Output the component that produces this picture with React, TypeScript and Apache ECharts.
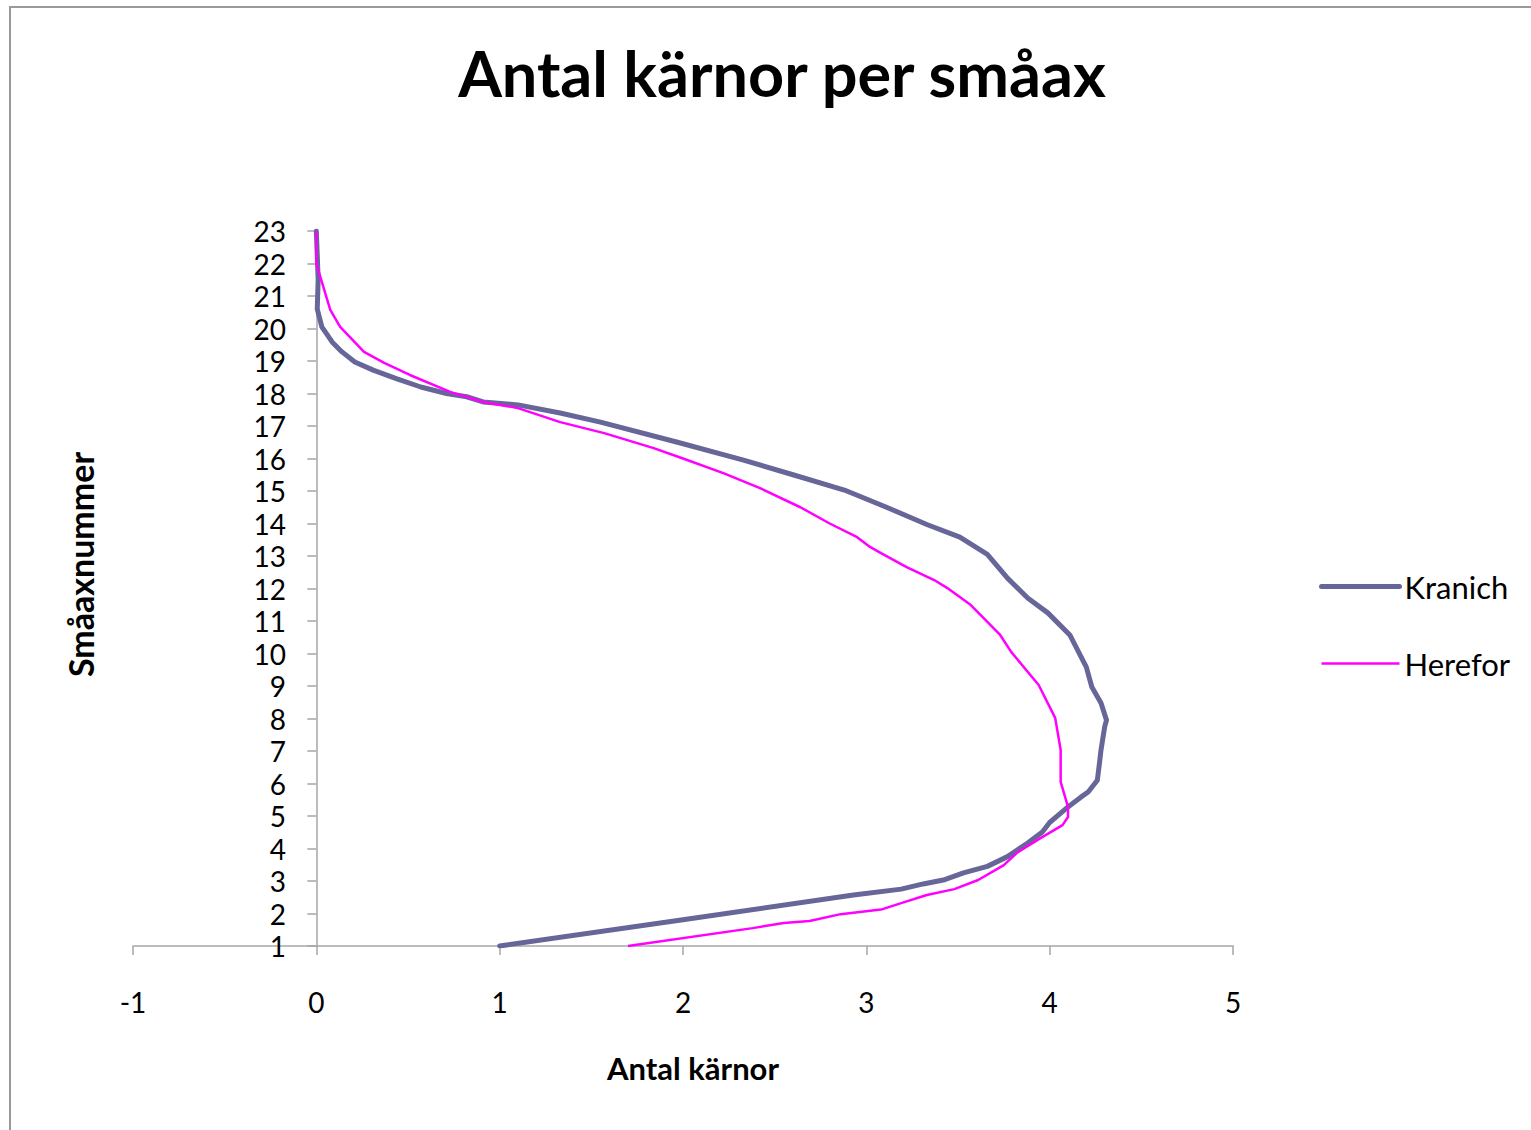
import React, { useEffect, useRef } from "react";
import * as echarts from "echarts";

const titleText = "Antal kärnor per småax";
const xAxisName = "Antal kärnor";
const yAxisName = "Småaxnummer";
const seriesNames = ["Kranich", "Herefor"];

const kranichX = [1.0, 1.99, 2.93, 3.19, 3.31, 3.42, 3.53, 3.66, 3.77, 3.88, 3.96, 4.0, 4.1, 4.17, 4.21, 4.26, 4.27, 4.28, 4.3, 4.31, 4.28, 4.23, 4.2, 4.11, 3.99, 3.88, 3.77, 3.66, 3.51, 3.33, 3.11, 2.88, 2.6, 2.33, 1.97, 1.55, 1.33, 1.1, 0.91, 0.82, 0.71, 0.57, 0.44, 0.31, 0.21, 0.14, 0.087, 0.03, 0.005, 0.01, 0.0];
const kranichY = [1.0, 1.8, 2.57, 2.75, 2.91, 3.03, 3.25, 3.45, 3.75, 4.17, 4.51, 4.8, 5.28, 5.58, 5.74, 6.1, 6.55, 7.03, 7.74, 7.95, 8.48, 8.97, 9.58, 10.57, 11.25, 11.71, 12.32, 13.05, 13.58, 13.97, 14.5, 15.03, 15.5, 15.95, 16.5, 17.12, 17.4, 17.65, 17.74, 17.9, 18.0, 18.2, 18.45, 18.72, 18.97, 19.28, 19.58, 20.05, 20.6, 21.5, 23.0];

const hereforX = [1.7, 2.38, 2.55, 2.69, 2.86, 3.08, 3.19, 3.33, 3.48, 3.61, 3.75, 3.82, 3.95, 4.07, 4.1, 4.1, 4.06, 4.06, 4.03, 3.94, 3.79, 3.73, 3.57, 3.44, 3.37, 3.22, 3.08, 3.02, 2.95, 2.8, 2.64, 2.42, 2.22, 2.0, 1.84, 1.57, 1.33, 1.1, 0.91, 0.73, 0.51, 0.37, 0.26, 0.13, 0.076, 0.0, 0.0];
const hereforY = [1.0, 1.55, 1.71, 1.77, 1.98, 2.12, 2.32, 2.57, 2.75, 3.03, 3.49, 3.86, 4.32, 4.72, 4.97, 5.28, 6.05, 7.03, 8.02, 9.03, 10.05, 10.57, 11.49, 12.02, 12.26, 12.66, 13.09, 13.28, 13.58, 14.0, 14.5, 15.09, 15.55, 16.0, 16.32, 16.78, 17.12, 17.55, 17.74, 18.05, 18.57, 18.94, 19.28, 20.05, 20.57, 22.0, 23.0];

const xMin = -1;
const xMax = 5;
const yMin = 1;
const yMax = 23;

const zip = (xs: number[], ys: number[]) => xs.map((x, i) => [x, ys[i]]);

const FONT = "Lato";
const KRANICH_COLOR = "#666699";
const HEREFOR_COLOR = "#ff00ff";

export default function App() {
  const ref = useRef<HTMLDivElement>(null);
  useEffect(() => {
    document.body.style.margin = "0";
    if (!ref.current) return;
    const chart = echarts.init(ref.current, null, { renderer: "svg" });
    const axisGrey = "#a6a6a6";
    chart.setOption({
      animation: false,
      backgroundColor: "#ffffff",
      textStyle: { fontFamily: FONT },
      title: {
        text: titleText,
        left: 777,
        top: 36,
        textAlign: "center",
        textStyle: { fontFamily: FONT, fontWeight: "bold", fontSize: 63, color: "#000" },
      },
      graphic: [
        {
          type: "rect",
          shape: { x: 10, y: 7, width: 1540, height: 1140 },
          style: { fill: "none", stroke: "#999999", lineWidth: 2 },
          silent: true,
        },
      ],
      legend: {
        orient: "vertical",
        left: 1314,
        top: 566,
        itemWidth: 78,
        itemHeight: 16,
        itemGap: 46,
        itemStyle: { opacity: 0 },
        data: [
          { name: seriesNames[0], lineStyle: { width: 5, color: KRANICH_COLOR, cap: "round" } },
          { name: seriesNames[1], lineStyle: { width: 2.5, color: HEREFOR_COLOR } },
        ],
        textStyle: { fontFamily: FONT, fontSize: 31, color: "#000", padding: [0, 0, 0, 0] },
      },
      grid: { left: 133, right: 298, top: 231, bottom: 184, outerBoundsMode: "none", containLabel: false },
      xAxis: {
        type: "value",
        min: xMin,
        max: xMax,
        interval: 1,
        name: xAxisName,
        nameLocation: "middle",
        nameGap: 106,
        nameTextStyle: { fontFamily: FONT, fontWeight: "bold", fontSize: 31, color: "#000", padding: [0, 0, 0, 20] },
        axisLine: { show: true, onZero: false, lineStyle: { color: axisGrey, width: 1.5 } },
        axisTick: { show: true, length: 9, lineStyle: { color: axisGrey, width: 1.5 } },
        axisLabel: { margin: 42, fontFamily: FONT, fontSize: 28, color: "#000" },
        splitLine: { show: false },
      },
      yAxis: {
        type: "value",
        min: yMin,
        max: yMax,
        interval: 1,
        name: yAxisName,
        nameLocation: "middle",
        nameGap: 36,
        nameTextStyle: { fontFamily: FONT, fontWeight: "bold", fontSize: 34, color: "#000", padding: [0, 0, 0, 48] },
        axisLine: { show: true, onZero: true, lineStyle: { color: axisGrey, width: 1.5 } },
        axisTick: { show: true, length: 9, lineStyle: { color: axisGrey, width: 1.5 } },
        axisLabel: { margin: -153, align: "right", fontFamily: FONT, fontSize: 28, color: "#000" },
        splitLine: { show: false },
      },
      series: [
        {
          name: seriesNames[0],
          type: "line",
          data: zip(kranichX, kranichY),
          symbol: "none",
          smooth: false,
          color: KRANICH_COLOR,
          lineStyle: { color: KRANICH_COLOR, width: 5, cap: "round", join: "round" },
          z: 2,
        },
        {
          name: seriesNames[1],
          type: "line",
          data: zip(hereforX, hereforY),
          symbol: "none",
          smooth: false,
          color: HEREFOR_COLOR,
          lineStyle: { color: HEREFOR_COLOR, width: 2.5, join: "round" },
          z: 3,
        },
      ],
    });
    return () => chart.dispose();
  }, []);
  return <div ref={ref} style={{ width: 1531, height: 1130 }} />;
}
